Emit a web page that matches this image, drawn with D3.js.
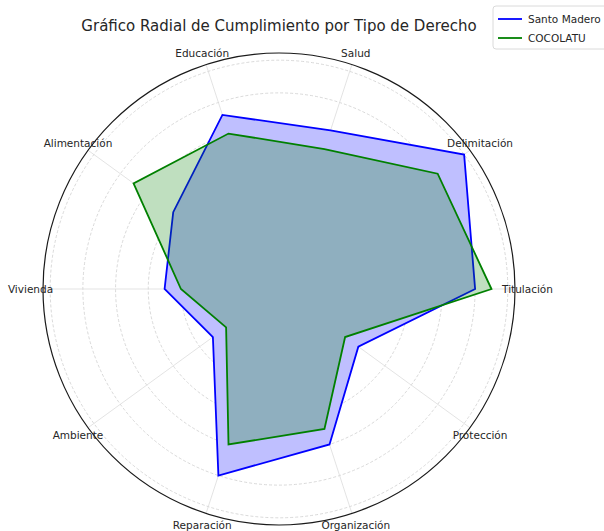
<!DOCTYPE html>
<html>
<head>
<meta charset="utf-8">
<script src="https://cdn.jsdelivr.net/npm/d3@7"></script>
<style>
  body { margin: 0; background: #fff; }
  svg { display: block; font-family: "DejaVu Sans", sans-serif; }
</style>
</head>
<body>
<div class="container"></div>
<script>
const categories = ["Titulación", "Delimitación", "Salud", "Educación", "Alimentación",
    "Vivienda", "Ambiente", "Reparación", "Organización", "Protección"];
const santoMadero = [60, 70, 51, 56, 40, 35, 25, 60, 50, 30];
const cocolatu = [65, 60, 45, 50, 55, 30, 20, 50, 45, 25];
const radialTicks = [10, 20, 30, 40, 50, 60, 70];
const seriesNames = ["Santo Madero", "COCOLATU"];

const w = 604;
const h = 531;
const cx = 279;
const cy = 289;
const R = 236;

const svg = d3.select(".container")
    .append("svg")
    .attr("width", w)
    .attr("height", h);

const rScale = d3.scaleLinear().domain([0, 72.2]).range([0, R]);
// matplotlib angle (ccw from east) -> d3 radial angle (cw from north)
const angle = (i) => Math.PI / 2 - (2 * Math.PI * i) / categories.length;

const g = svg.append("g").attr("transform", `translate(${cx}, ${cy})`);

// grid circles
g.selectAll(".ring")
    .data(radialTicks)
    .enter()
    .append("circle")
    .attr("class", "ring")
    .attr("r", (d) => rScale(d))
    .attr("fill", "none")
    .attr("stroke", "#cfcfcf")
    .attr("stroke-width", 0.8)
    .attr("stroke-dasharray", "3,2");

// spokes
g.selectAll(".spoke")
    .data(categories)
    .enter()
    .append("line")
    .attr("class", "spoke")
    .attr("x1", 0)
    .attr("y1", 0)
    .attr("x2", (d, i) => R * Math.sin(angle(i)))
    .attr("y2", (d, i) => -R * Math.cos(angle(i)))
    .attr("stroke", "#dcdcdc")
    .attr("stroke-width", 0.8);

const radar = d3.lineRadial()
    .angle((d, i) => angle(i))
    .radius((d) => rScale(d))
    .curve(d3.curveLinearClosed);

const colors = ["#0000ff", "#008000"];

// white underlay so the grid does not show through the fills
[santoMadero, cocolatu].forEach((vals) => {
    g.append("path").attr("d", radar(vals)).attr("fill", "#fff");
});

[santoMadero, cocolatu].forEach((vals, k) => {
    g.append("path")
        .attr("d", radar(vals))
        .attr("fill", colors[k])
        .attr("fill-opacity", 0.25)
        .attr("stroke", "none");
    g.append("path")
        .attr("d", radar(vals))
        .attr("fill", "none")
        .attr("stroke", colors[k])
        .attr("stroke-width", 1.8)
        .attr("stroke-linejoin", "miter");
});

// outer frame
g.append("circle")
    .attr("r", R)
    .attr("fill", "none")
    .attr("stroke", "#1a1a1a")
    .attr("stroke-width", 1.2);

// category labels
const labelR = 248.5;
g.selectAll(".cat")
    .data(categories)
    .enter()
    .append("text")
    .attr("class", "cat")
    .attr("x", (d, i) => labelR * Math.sin(angle(i)))
    .attr("y", (d, i) => -labelR * Math.cos(angle(i)))
    .attr("text-anchor", "middle")
    .attr("dominant-baseline", "central")
    .attr("font-size", 10.5)
    .attr("fill", "#262626")
    .text((d) => d);

// title
svg.append("text")
    .attr("x", cx)
    .attr("y", 31)
    .attr("text-anchor", "middle")
    .attr("font-size", 15)
    .attr("fill", "#262626")
    .text("Gráfico Radial de Cumplimiento por Tipo de Derecho");

// legend
const leg = svg.append("g").attr("transform", "translate(493, 6)");
leg.append("rect")
    .attr("width", 120)
    .attr("height", 43)
    .attr("rx", 3)
    .attr("fill", "#fff")
    .attr("stroke", "#d0d0d0")
    .attr("stroke-width", 0.8);
seriesNames.forEach((name, k) => {
    const y = 13 + k * 19;
    leg.append("line")
        .attr("x1", 5)
        .attr("x2", 29)
        .attr("y1", y)
        .attr("y2", y)
        .attr("stroke", colors[k])
        .attr("stroke-width", 1.8);
    leg.append("text")
        .attr("x", 35)
        .attr("y", y)
        .attr("dominant-baseline", "central")
        .attr("font-size", 10.5)
        .attr("fill", "#262626")
        .text(name);
});
</script>
</body>
</html>
